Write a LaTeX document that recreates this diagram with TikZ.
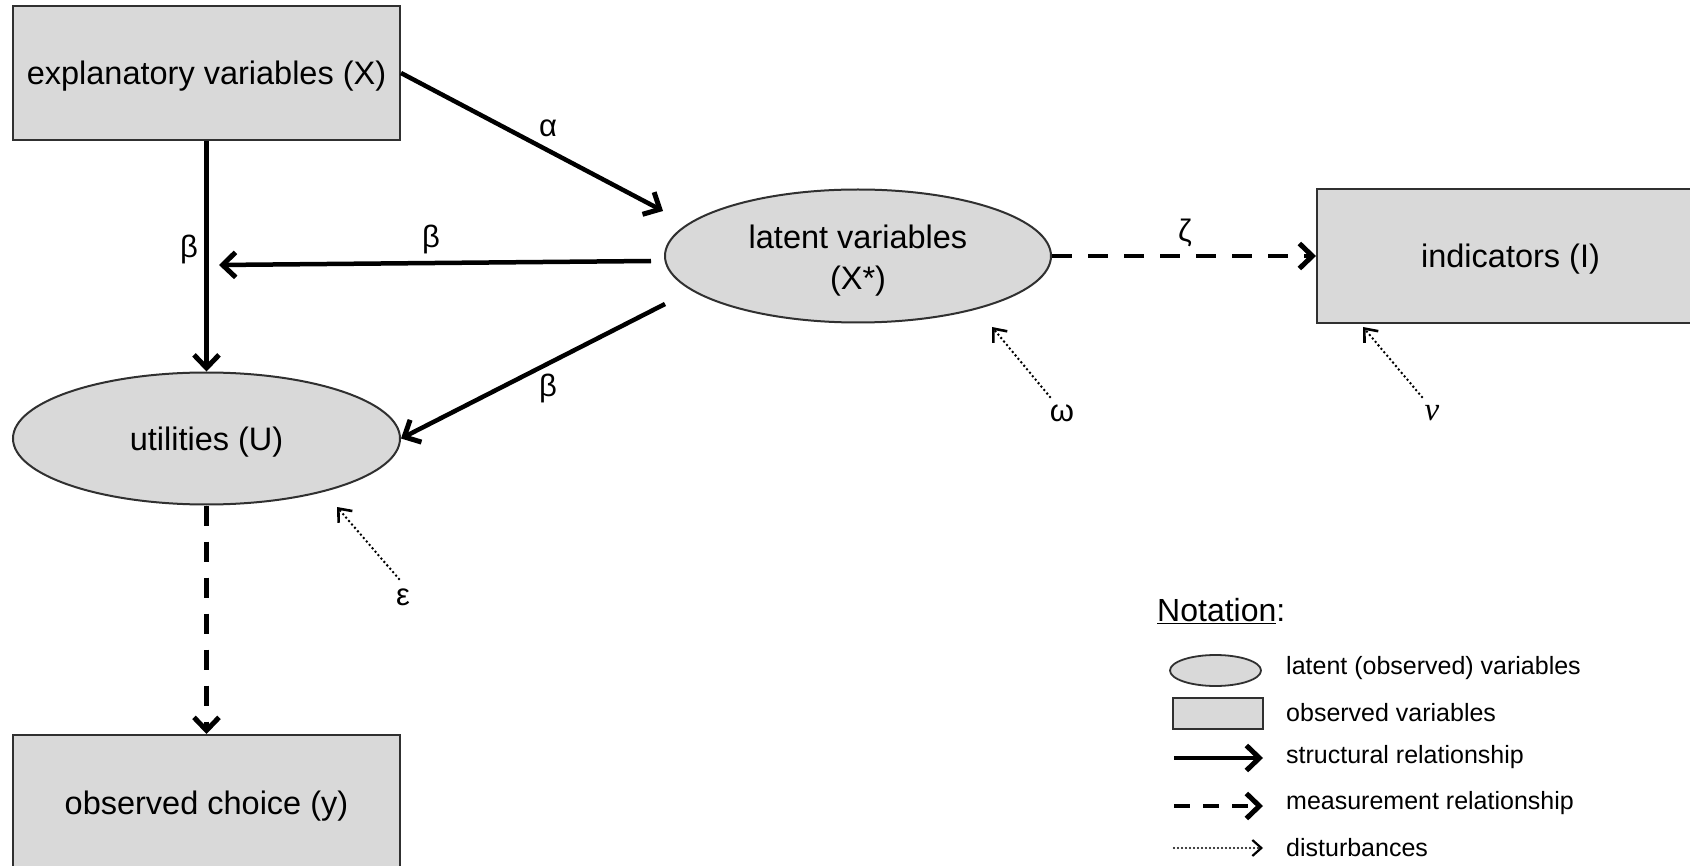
\documentclass[tikz,border=0pt]{standalone}
\usepackage{fontspec}
\setmainfont{Liberation Sans}
\newfontfamily\mathitfont{Liberation Serif}[ItalicFont={Liberation Serif Italic}]
\usetikzlibrary{arrows.meta,shapes.geometric}
\definecolor{boxfill}{HTML}{D9D9D9}
\definecolor{edgegray}{HTML}{303030}
\tikzset{
  obsbox/.style={draw=edgegray, line width=2pt, fill=boxfill, rectangle, minimum width=387pt, minimum height=134pt, inner sep=0pt, font=\fontsize{32.5}{41}\selectfont, align=center, text height=28pt, text depth=4pt},
  latbox/.style={draw=edgegray, line width=2pt, fill=boxfill, ellipse, minimum width=387pt, minimum height=132pt, inner sep=0pt, font=\fontsize{32.5}{41}\selectfont, align=center, text height=28pt, text depth=4pt},
  struct/.style={line width=4.5pt, -{Straight Barb[length=13pt,width=25pt,line width=5pt]}},
  meas/.style={line width=4.5pt, dash pattern=on 20pt off 16pt, -{Straight Barb[length=13pt,width=25pt,line width=5pt]}},
  disturb/.style={line width=2.8pt, dash pattern=on 0pt off 4.5pt, line cap=round, -{Straight Barb[length=11pt,width=18pt,line width=2.6pt]}},
  greek/.style={font=\fontsize{31}{31}\selectfont, inner sep=0pt},
  legtext/.style={font=\fontsize{25}{28}\selectfont, anchor=west, inner sep=0pt},
}
\begin{document}
\begin{tikzpicture}[x=1pt, y=-1pt]
\useasboundingbox (0,0) rectangle (1690,866);
\clip (0,0) rectangle (1690,866);
\fill[white] (0,0) rectangle (1690,866);

% main nodes
\node[obsbox] (expl) at (206.5,73) {explanatory variables (X)};
\node[latbox, minimum width=386pt, minimum height=133pt, text height=71pt, text depth=4pt] (lat) at (858,256) {latent variables\\(X*)};
\node[obsbox] (ind) at (1510.5,256) {indicators (I)};
\node[latbox] (util) at (206.5,438.5) {utilities (U)};
\node[obsbox] (obs) at (206.5,802) {observed choice (y)};

% free ends
\coordinate (alphaEnd) at (663,211);
\coordinate (betaHStart) at (651,261);
\coordinate (betaHEnd) at (219,265);
\coordinate (betaDStart) at (665,304);
\coordinate (epsTail) at (399,579);
\coordinate (epsHead) at (337,507);
\coordinate (omeTail) at (1050,397);
\coordinate (omeHead) at (992,327);
\coordinate (nuTail) at (1422,397);
\coordinate (nuHead) at (1363,327);

% connectors
\draw[struct] (expl.east) -- (alphaEnd);
\draw[struct] (expl.south) -- (util.north);
\draw[struct] (betaHStart) -- (betaHEnd);
\draw[struct] (betaDStart) -- (util.east);
\draw[meas] (lat.east) -- (ind.west);
\draw[meas] (util.south) -- (obs.north);
\draw[disturb] (epsTail) -- (epsHead);
\draw[disturb] (omeTail) -- (omeHead);
\draw[disturb] (nuTail) -- (nuHead);

% labels
\node[greek] (la) at (548,128) {α};
\node[greek] (lb1) at (189,249) {β};
\node[greek] (lb2) at (431,239) {β};
\node[greek] (lb3) at (548,388) {β};
\node[greek] (lz) at (1185,233) {ζ};
\node[greek] (le) at (403,597) {ε};
\node[greek] (lo) at (1062,413) {ω};
\node[greek, font=\fontsize{33}{33}\selectfont\mathitfont\itshape] (ln) at (1432,413) {ν};

% legend
\node[anchor=west, inner sep=0pt, font=\fontsize{32}{36}\selectfont] (nota) at (1157,611) {\underline{Notation}:};
\node[draw=edgegray, line width=1.8pt, fill=boxfill, ellipse, minimum width=91pt, minimum height=31pt, inner sep=0pt] (legell) at (1215.5,670.5) {};
\node[draw=edgegray, line width=1.8pt, fill=boxfill, rectangle, minimum width=90pt, minimum height=31pt, inner sep=0pt] (legrect) at (1218,713.5) {};
\coordinate (ls1) at (1174,758);
\coordinate (le1) at (1263,758);
\coordinate (ls2) at (1174,806);
\coordinate (le2) at (1263,806);
\coordinate (ls3) at (1174,848);
\coordinate (le3) at (1263,848);
\draw[struct] (ls1) -- (le1);
\draw[line width=4.5pt, dash pattern=on 16pt off 13pt, -{Straight Barb[length=13pt,width=25pt,line width=5pt]}] (ls2) -- (le2);
\draw[line width=2.2pt, dash pattern=on 0pt off 4pt, line cap=round, -{Straight Barb[length=9pt,width=16pt,line width=2.2pt]}] (ls3) -- (le3);
\node[legtext] (t1) at (1286,668) {latent (observed) variables};
\node[legtext] (t2) at (1286,713) {observed variables};
\node[legtext] (t3) at (1286,757) {structural relationship};
\node[legtext] (t4) at (1286,803) {measurement relationship};
\node[legtext] (t5) at (1286,848) {disturbances};
\end{tikzpicture}
\end{document}
